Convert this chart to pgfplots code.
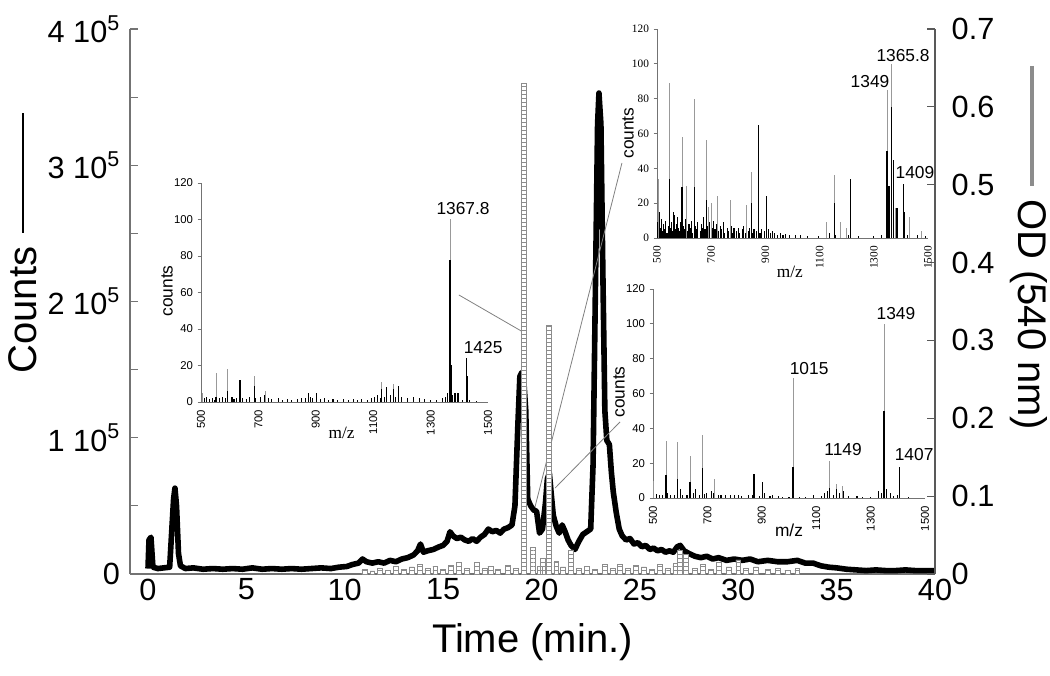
\documentclass[border=0pt]{standalone}
\usepackage{fontspec}
\setmainfont{Liberation Sans}
\newfontfamily\seriffont{Liberation Serif}
\usepackage{pgfplots}
\pgfplotsset{compat=1.18}
\usepackage{pgfplotstable}
\usetikzlibrary{patterns}

\pgfplotstableread{
t v
0.00 0.04
0.05 0.25
0.15 0.27
0.25 0.05
0.5 0.04
0.8 0.045
1.1 0.05
1.2 0.3
1.3 0.55
1.37 0.63
1.45 0.5
1.55 0.15
1.65 0.06
1.9 0.04
2.3 0.045
2.8 0.035
3.3 0.04
3.8 0.035
4.3 0.04
4.8 0.035
5.3 0.045
5.8 0.035
6.3 0.04
6.8 0.035
7.3 0.04
7.8 0.035
8.3 0.04
8.8 0.045
9.3 0.04
9.7 0.05
10.1 0.055
10.4 0.07
10.7 0.08
10.9 0.11
11.1 0.09
11.4 0.08
11.7 0.09
12.0 0.08
12.3 0.10
12.6 0.09
12.9 0.11
13.2 0.12
13.5 0.14
13.7 0.17
13.85 0.22
14.0 0.16
14.2 0.17
14.5 0.18
14.8 0.2
15.0 0.21
15.2 0.24
15.35 0.31
15.5 0.28
15.7 0.26
15.9 0.27
16.1 0.25
16.3 0.24
16.5 0.26
16.7 0.24
16.9 0.27
17.1 0.29
17.3 0.33
17.5 0.31
17.7 0.32
17.9 0.30
18.1 0.33
18.3 0.34
18.5 0.36
18.65 0.5
18.8 1.1
18.9 1.45
19.0 1.48
19.1 1.42
19.2 1.2
19.3 0.55
19.45 0.5
19.6 0.47
19.75 0.46
19.9 0.3
20.05 0.33
20.2 0.52
20.3 0.70
20.4 0.74
20.5 0.58
20.6 0.43
20.75 0.35
20.9 0.30
21.05 0.36
21.2 0.31
21.35 0.25
21.5 0.21
21.7 0.18
21.9 0.24
22.1 0.29
22.3 0.31
22.5 0.33
22.62 0.8
22.75 2.2
22.85 3.3
22.92 3.53
23.02 3.3
23.12 2.2
23.22 1.2
23.32 0.98
23.45 0.95
23.55 0.75
23.65 0.6
23.8 0.45
23.95 0.33
24.1 0.28
24.3 0.25
24.5 0.26
24.7 0.22
24.9 0.23
25.1 0.2
25.3 0.21
25.5 0.18
25.7 0.19
25.9 0.17
26.1 0.18
26.3 0.16
26.5 0.17
26.7 0.16
26.9 0.2
27.05 0.21
27.25 0.17
27.5 0.15
27.8 0.13
28.1 0.12
28.4 0.13
28.7 0.11
29.0 0.12
29.4 0.10
29.8 0.11
30.2 0.10
30.6 0.11
31.0 0.09
31.5 0.10
32.0 0.09
32.5 0.09
33.0 0.10
33.4 0.08
33.8 0.08
34.2 0.06
34.6 0.05
35.0 0.045
35.5 0.035
36.0 0.03
36.5 0.025
37.0 0.03
37.5 0.025
38.0 0.025
38.5 0.03
39.0 0.025
39.5 0.025
40.0 0.025
}\countsdata

\pgfplotstableread{
t od
11.0 0.006
11.4 0.004
11.8 0.008
12.2 0.005
12.6 0.01
13.0 0.006
13.4 0.009
13.8 0.012
14.2 0.007
14.6 0.01
15.0 0.006
15.4 0.011
15.8 0.015
16.2 0.008
16.7 0.015
17.1 0.007
17.4 0.01
17.8 0.006
18.3 0.011
18.7 0.008
19.1 0.63
19.55 0.034
19.9 0.01
20.05 0.02
20.38 0.32
20.75 0.016
21.1 0.009
21.5 0.031
21.9 0.008
22.3 0.01
22.7 0.006
23.2 0.012
23.6 0.008
24.0 0.013
24.4 0.007
24.8 0.011
25.2 0.009
25.6 0.006
26.0 0.012
26.4 0.008
26.8 0.014
27.05 0.03
27.35 0.025
27.8 0.008
28.2 0.012
28.6 0.006
29.0 0.015
29.5 0.009
30.0 0.018
30.4 0.007
30.9 0.009
31.5 0.006
32.0 0.008
32.5 0.005
33.0 0.007
}\oddata

\pgfplotsset{
  inset/.style={
    scale only axis, xmin=500, xmax=1500, ymin=0, ymax=120,
    axis x line*=bottom, axis y line*=left,
    axis line style={black!55, line width=0.6pt, -},
    xtick={500,700,900,1100,1300,1500},
    xticklabels={500,700,900,1100,1300,1500},
    ytick={0,20,40,60,80,100,120},
    yticklabels={0,20,40,60,80,100,120},
    tick label style={font=\fontsize{8.5}{10}\selectfont},
    xticklabel style={rotate=90, anchor=east},
    major x tick style={draw=none},
    ytick style={black!55, line width=0.5pt},
    tick align=outside, major tick length=2.5pt,
    clip=false,
  },
  grayline/.style={ycomb, black!40, line width=0.5pt},
  blackline/.style={ycomb, black, line width=1.0pt},
  noise/.style={ycomb, black, line width=0.8pt},
}
\tikzset{
  peaklab/.style={font=\fontsize{13}{15}\selectfont, inner sep=0pt},
  cntlab/.style={font=\fontsize{13}{15}\selectfont, rotate=90},
}

\begin{document}
\begin{tikzpicture}
\useasboundingbox (0,0) rectangle (787.5pt,506.25pt);

% main axis: counts
\begin{axis}[
  at={(97.5pt,75.75pt)}, anchor=south west,
  scale only axis, width=603.75pt, height=408.75pt,
  xmin=-0.915, xmax=40, ymin=0, ymax=4,
  axis x line*=bottom, axis y line*=left,
  axis line style={black!55, line width=1pt, -},
  xtick={0,5,10,15,20,25,30,35,40},
  xticklabels={0,5,10,15,20,25,30,35,40},
  ytick={0,1,2,3,4},
  minor ytick={0.5,1.5,2.5,3.5},
  yticklabels={0,{1 10\textsuperscript{5}},{2 10\textsuperscript{5}},{3 10\textsuperscript{5}},{4 10\textsuperscript{5}}},
  tick label style={font=\fontsize{23}{26}\selectfont},
  yticklabel style={xshift=-4pt},
  major x tick style={draw=none},
  ytick style={black!55, line width=0.8pt},
  tick align=inside, major tick length=6pt, minor tick length=6pt,
  clip=false,
]
\addplot[black, line width=4.2pt, line join=round] table[x=t, y=v] {\countsdata};
\draw[black!50, line width=0.6pt] (axis cs:15.8,2.048) -- (axis cs:19.06,1.776);
\draw[black!50, line width=0.6pt] (axis cs:24.09,3.017) -- (axis cs:19.67,0.492);
\draw[black!50, line width=0.6pt] (axis cs:23.99,1.116) -- (axis cs:20.69,0.631);
\node[rotate=90, anchor=south, inner sep=0pt, font=\fontsize{30}{34}\selectfont] at (axis description cs:-0.115,0.607)
  {Counts\hspace{10.5pt}\rule[0.33em]{90pt}{1.4pt}};
\node[font=\fontsize{30}{34}\selectfont] at (axis description cs:0.5,-0.125) {Time (min.)};
\end{axis}

% secondary axis: OD
\begin{axis}[
  at={(97.5pt,75.75pt)}, anchor=south west,
  scale only axis, width=603.75pt, height=408.75pt,
  xmin=-0.915, xmax=40, ymin=0, ymax=0.7,
  axis x line=none, axis y line*=right,
  axis line style={black!65, line width=1pt, -},
  ytick={0,0.1,0.2,0.3,0.4,0.5,0.6,0.7},
  yticklabels={0,0.1,0.2,0.3,0.4,0.5,0.6,0.7},
  tick label style={font=\fontsize{23}{26}\selectfont},
  yticklabel style={xshift=9pt},
  ytick style={black!65, line width=0.8pt},
  tick align=inside, major tick length=6pt,
  clip=false,
]
\addplot[ybar, bar width=0.25, bar shift=0, fill=white, draw=black!45, line width=0.4pt,
  postaction={pattern=horizontal lines, pattern color=black!45}] table[x=t, y=od] {\oddata};
\node[rotate=-90, font=\fontsize{30}{34}\selectfont] at (axis description cs:1.116,0.598)
  {{\color{black!45}\rule[0.3em]{90pt}{3.2pt}}\hspace{10pt}OD (540 nm)};
\end{axis}

% inset 1
\begin{axis}[inset,
  at={(150.75pt,204.75pt)}, anchor=south west,
  width=215.25pt, height=164.25pt,
]
\addplot[noise] coordinates {(505,3)(512,2)(520,2.5)(530,1.5)(540,2)(548,1)(565,2)(575,3)(585,2)(608,2.5)(615,1.5)(625,2)(645,2)(660,1.5)(670,2.5)(690,2)(708,3)(720,4)(735,2)(745,1.5)(770,2)(785,1)(800,1.5)(815,1)(835,1.5)(850,2)(865,2)(880,3)(890,2)(915,1.5)(930,2)(945,1)(960,1.5)(975,1)(995,1.5)(1015,1)(1030,1.5)(1045,1)(1060,1.5)(1080,1)(1095,2)(1105,2.5)(1115,4)(1125,2)(1140,3)(1160,4)(1178,3)(1200,2.5)(1220,2)(1240,3)(1260,2)(1280,1.5)(1300,1)(1320,1)(1340,2)(1352,3)(1358,5)(1375,4)(1385,5)(1395,2)(1410,1)(1435,1)(1460,0.5)};
\addplot[grayline] coordinates {(505,5)(552,16)(592,18)(686,14)(723,6)(1130,11)(1170,10)(1367.8,100)};
\addplot[blackline] coordinates {(552,3)(592,6)(636,12)(686,9)(874,5)(903,5)(1130,7)(1147,8)(1170,7)(1187,9)(1367.8,78)(1371,20)(1395,5)(1425,24)(1428,14)};
\node[peaklab] at (axis cs:1413,106) {1367.8};
\node[peaklab] at (axis cs:1483,30) {1425};
\node[cntlab] at (axis description cs:-0.118,0.507) {counts};
\node[font=\seriffont\fontsize{13}{15}\selectfont] at (axis description cs:0.49,-0.14) {m/z};
\end{axis}

% inset 2
\begin{axis}[inset,
  at={(492.75pt,327.75pt)}, anchor=south west,
  width=203.25pt, height=156.75pt,
  tick label style={font=\seriffont\fontsize{8.5}{10}\selectfont},
]
\addplot[noise] coordinates {(503,9)(508,14)(512,6)(516,11)(520,4)(524,8)(528,5)(532,10)(537,3)(541,7)(550,6)(554,9)(558,4)(563,13)(567,5)(571,8)(580,6)(584,4)(588,9)(597,7)(601,5)(606,11)(614,4)(618,8)(623,6)(627,10)(632,3)(643,7)(647,5)(651,9)(660,4)(664,8)(668,6)(673,12)(677,5)(687,7)(691,4)(695,9)(704,6)(708,10)(714,5)(718,8)(728,4)(733,7)(737,5)(745,9)(750,3)(759,6)(764,4)(774,7)(779,3)(784,6)(795,4)(800,6)(806,3)(815,5)(820,7)(825,3)(836,4)(842,6)(853,3)(858,5)(866,4)(880,3)(885,5)(896,4)(912,5)(918,3)(925,4)(932,3)(945,2)(955,3)(965,2)(975,2.5)(990,1.5)(1010,2)(1030,1.5)(1055,1)(1095,1)(1135,3)(1160,2)(1205,2)(1245,1)(1300,1)(1330,2)(1425,2)(1460,1.5)(1490,1)};
\addplot[grayline] coordinates {(505,34)(546,89)(592,58)(610,30)(638,80)(682,56)(690,18)(700,20)(724,24)(769,22)(830,19)(848,38)(1126,9)(1154,36)(1178,9)(1197,6)(1349,85)(1365.8,100)(1380,17)(1430,12)(1475,4)};
\addplot[blackline] coordinates {(510,15)(546,34)(560,15)(575,12)(592,29)(638,29)(682,22)(848,20)(874,65)(905,24)(1154,20)(1215,34)(1349,50)(1356,30)(1365.8,75)(1372,45)(1385,17)(1409,31)(1414,15)};
\node[peaklab] at (axis cs:1408,105) {1365.8};
\node[peaklab] at (axis cs:1286,89.6) {1349};
\node[peaklab] at (axis cs:1452,37.3) {1409};
\node[cntlab] at (axis description cs:-0.107,0.502) {counts};
\node[font=\seriffont\fontsize{13}{15}\selectfont] at (axis description cs:0.49,-0.163) {m/z};
\end{axis}

% inset 3
\begin{axis}[inset,
  at={(489.75pt,132.75pt)}, anchor=south west,
  width=204pt, height=156.75pt,
]
\addplot[noise] coordinates {(503,2)(512,2.5)(525,1.5)(535,2)(555,3)(565,1.5)(580,2)(600,5)(610,1.5)(625,2)(650,3)(655,5)(670,2)(690,2.5)(695,3)(715,4)(722,3)(740,2)(750,1.5)(765,2)(785,2)(800,1.5)(815,2)(825,1)(850,1.5)(865,2)(890,1)(910,3)(930,1)(940,1.5)(960,1)(975,0.8)(1000,0.6)(1040,0.5)(1060,0.8)(1090,2)(1120,1)(1130,3)(1142,4)(1165,2)(1185,3)(1200,4)(1220,1)(1250,1)(1270,0.8)(1300,0.5)(1330,4)(1340,3)(1360,5)(1372,3)(1385,1)(1400,2)(1440,0.5)};
\addplot[grayline] coordinates {(501,10)(548,33)(591,32)(636,24)(681,36)(725,11)(1015,69)(1149,21)(1175,8)(1196,7)(1349,100)};
\addplot[blackline] coordinates {(548,13)(591,11)(636,9)(681,17)(871,14)(903,9)(1015,18)(1149,6)(1175,5)(1349,50)(1352,24)(1407,18)};
\node[peaklab] at (axis cs:1074,74.6) {1015};
\node[peaklab] at (axis cs:1199,27.6) {1149};
\node[peaklab] at (axis cs:1393,106) {1349};
\node[peaklab] at (axis cs:1460,25) {1407};
\node[cntlab] at (axis description cs:-0.125,0.507) {counts};
\node[font=\fontsize{13}{15}\selectfont] at (axis description cs:0.5,-0.153) {m/z};
\end{axis}
\end{tikzpicture}
\end{document}
